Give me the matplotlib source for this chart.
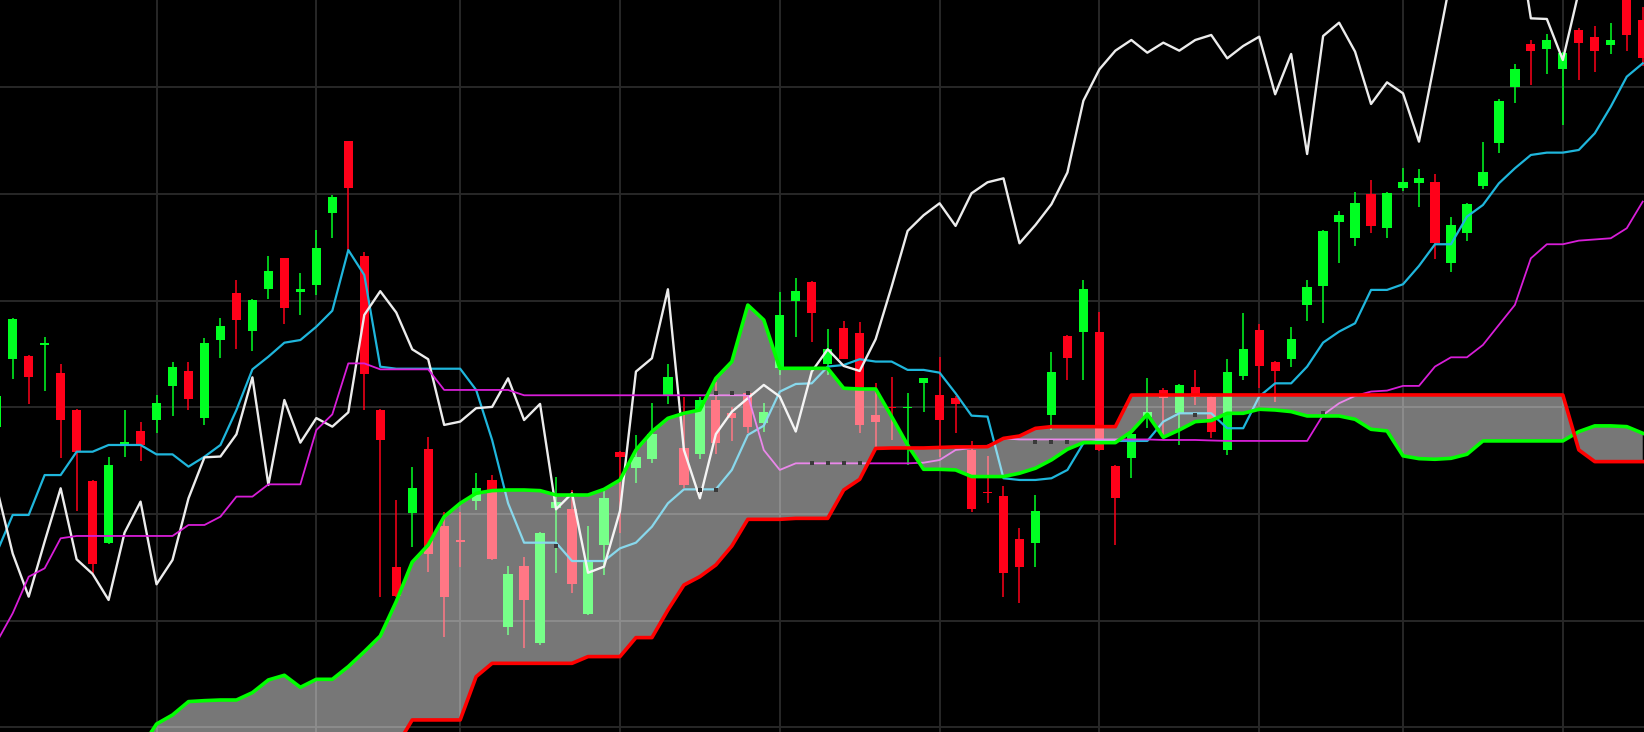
import numpy as np
import matplotlib
matplotlib.use("Agg")
import matplotlib.pyplot as plt

# ---------------- data (index of first candle = -1) ----------------
start = -1
opens = [1282, 1345, 1348.5, 1359, 1332, 1297.6, 1231, 1172.6, 1265, 1278,
         1288, 1320, 1334.5, 1290, 1363, 1407, 1371.6, 1410.7, 1439.8, 1408.5,
         1414.8, 1482, 1549.8, 1442.3, 1297.6, 1150, 1200.7, 1261, 1189, 1175.5,
         1212.6, 1232, 1094.5, 1151.4, 1079, 1205.4, 1204.5, 1106, 1171, 1258.6,
         1243, 1251.4, 1311.7, 1262.3, 1256.4, 1307, 1295, 1313.9, 1285, 1336.7,
         1400, 1418, 1340.5, 1374.8, 1370, 1293, 1300.5, 1299.3, 1322.6, 1311.7,
         1308.6, 1260, 1220.7, 1217, 1176.3, 1173.2, 1293, 1367.3, 1371, 1371.1,
         1245, 1253, 1291.3, 1316.4, 1294.5, 1319.5, 1309.5, 1260, 1329.5, 1372.7,
         1342.7, 1345, 1396, 1414, 1474.2, 1458.6, 1500.2, 1468, 1505.5, 1510.8,
         1511.1, 1435.2, 1463.9, 1508, 1547.6, 1600, 1640.8, 1635.8, 1617, 1653.9,
         1647, 1639.8, 1685, 1663]
highs = [1315, 1384, 1349, 1366, 1341, 1299, 1232, 1254, 1297.6, 1286.6,
         1311.6, 1343, 1343, 1365, 1383.5, 1419.5, 1401.6, 1442.3, 1440, 1425.7,
         1466.3, 1499, 1550, 1445.4, 1299, 1213, 1243.9, 1272.6, 1202.3, 1202,
         1238.2, 1236.7, 1151.4, 1160, 1183, 1235, 1223, 1189, 1222.6, 1259,
         1274, 1304.5, 1340.4, 1310, 1310, 1324, 1300, 1315, 1303.8, 1408.6,
         1421, 1419, 1373.3, 1381, 1380, 1322.7, 1328.3, 1313.3, 1328, 1347,
         1311, 1268.5, 1254.5, 1226.3, 1186.7, 1218, 1352.4, 1368, 1419.5, 1389.8,
         1246, 1277.3, 1327.3, 1318, 1322, 1335, 1311, 1345, 1389, 1378,
         1343.6, 1375, 1419.5, 1466.4, 1484.2, 1501.7, 1513.3, 1501.7, 1524.2, 1523.3,
         1518.9, 1478.9, 1491.4, 1548.6, 1589, 1621.7, 1644.5, 1649.8, 1633.6, 1655.4,
         1657.6, 1660.1, 1690, 1675]
lows = [1278, 1327, 1303, 1315, 1253, 1203, 1144.5, 1172, 1254, 1250,
        1276, 1292, 1298, 1283.5, 1346.6, 1355, 1353, 1401.6, 1378, 1386.6,
        1405.4, 1459, 1447.6, 1298, 1122.5, 1122.6, 1169.5, 1146, 1085, 1150.7,
        1204, 1157, 1086.7, 1074, 1077.3, 1144.5, 1126, 1105, 1143, 1182,
        1229, 1247.6, 1303.2, 1224, 1252, 1256, 1269, 1276, 1277.3, 1330.4,
        1365.7, 1361, 1330.5, 1345, 1276, 1263.3, 1269.5, 1246, 1296, 1253.8,
        1276, 1202.3, 1210, 1122.6, 1116.3, 1150, 1279, 1325.8, 1325.8, 1259.5,
        1171, 1233.5, 1280.4, 1274, 1264.8, 1302.4, 1271, 1255.5, 1325.8, 1318,
        1305.5, 1337.7, 1381.4, 1379, 1435.8, 1451.4, 1464, 1459, 1503.3, 1488.3,
        1438.9, 1427.3, 1456.4, 1504.5, 1538.3, 1585, 1602.3, 1612.6, 1564.8, 1607,
        1614.8, 1631.1, 1634.5, 1620]
closes = [1311, 1383, 1329, 1360.5, 1288, 1258, 1153, 1246, 1267.5, 1265,
          1304.5, 1338, 1307.6, 1360, 1376, 1382, 1400.7, 1428.2, 1393, 1410.7,
          1449.8, 1497.6, 1506, 1331.3, 1269.5, 1123.5, 1224.8, 1163, 1122.6, 1174.3,
          1224.2, 1157.6, 1143.9, 1119.5, 1182.6, 1211.7, 1134.2, 1157, 1214.8, 1253.2,
          1254, 1274.8, 1328.2, 1227.3, 1307, 1267, 1290, 1282, 1295.4, 1386.7,
          1409, 1389, 1354.5, 1345.2, 1283.6, 1286.7, 1299.3, 1300.5, 1327.3, 1288.2,
          1303.3, 1204.5, 1219.5, 1145, 1150.7, 1202.9, 1333.6, 1346.1, 1410.8, 1260.2,
          1214.8, 1275, 1296, 1308.6, 1321.1, 1310.2, 1277.4, 1333.6, 1354.5, 1338.9,
          1334.2, 1364, 1413.3, 1465.5, 1480.2, 1491.4, 1470.2, 1500.8, 1511.1, 1514.8,
          1453.9, 1471.1, 1490.5, 1520.3, 1587.6, 1617, 1634.5, 1644.5, 1632.6, 1642,
          1634.5, 1644.5, 1649.2, 1627.3]
# closes after the last visible candle (only seen through the lagging span)
later_closes = [1638.9, 1647.6, 1593.6, 1631.4, 1537.6, 1648.25, 1660.75, 1633.6,
                1584.5, 1604.8, 1594.5, 1549.2, 1625.75, 1703, 1740, 1730, 1750,
                1760, 1664.8, 1664.2, 1625.75, 1690, 1720]
chikou_shift = 26

tenkan = [1164, 1199.2, 1199.2, 1236.6, 1236.6, 1258.5, 1258.5, 1264.8, 1264.8, 1264.8,
          1256, 1256, 1244.5, 1253.8, 1264.8, 1297.6, 1335.7, 1347.6, 1360.7, 1363.2,
          1375.7, 1390.7, 1447.6, 1424.2, 1338.2, 1336.3, 1336.3, 1336.3, 1336.3, 1336.3,
          1316.4, 1269.5, 1210.1, 1173.2, 1173.2, 1173.2, 1156, 1156, 1156, 1167.9,
          1173.2, 1188.2, 1210.1, 1223.2, 1223.2, 1223.2, 1241.4, 1274.2, 1282.9, 1314.8,
          1322, 1322.6, 1338.3, 1339.8, 1345.2, 1343, 1343, 1335.2, 1335.2, 1332.6,
          1313.3, 1292.3, 1291.4, 1233.6, 1232, 1232, 1233.6, 1241.4, 1266.4, 1268.6,
          1268.6, 1268.6, 1268.6, 1286.7, 1294.5, 1294.5, 1294.5, 1280.5, 1280.5, 1310.2,
          1322.6, 1322.6, 1338.3, 1360.8, 1371.1, 1378.9, 1410.2, 1410.2, 1415.5, 1432.7,
          1453, 1453, 1478.9, 1489.8, 1510.1, 1524.2, 1536.7, 1538.9, 1538.9, 1541.4,
          1557, 1582, 1610.1, 1622.6]
kijun = [1080, 1107, 1141.3, 1149.2, 1177.3, 1179.5, 1179.5, 1179.5, 1179.5, 1179.5,
         1179.5, 1179.5, 1189.8, 1189.8, 1197.6, 1216.4, 1216.4, 1227.9, 1227.9, 1227.9,
         1278.8, 1293.5, 1341.3, 1341.3, 1335.7, 1335.7, 1335.7, 1335.7, 1316.4, 1316.4,
         1316.4, 1316.4, 1316.4, 1311.4, 1311.4, 1311.4, 1311.4, 1311.4, 1311.4, 1311.4,
         1311.4, 1311.4, 1311.4, 1311.4, 1311.4, 1311.4, 1311.4, 1311.4, 1260.1, 1241.4,
         1247.6, 1247.6, 1247.6, 1247.6, 1247.6, 1247.6, 1247.6, 1247.6, 1248.2, 1250.7,
         1260.1, 1262, 1264.1, 1271, 1270, 1270, 1270, 1270, 1270, 1270,
         1270, 1270, 1270, 1269.5, 1269.5, 1269.5, 1269, 1268.6, 1268.6, 1268.6,
         1268.6, 1268.6, 1268.6, 1293, 1303.9, 1310.8, 1314.9, 1315.8, 1320.2, 1320.2,
         1338.3, 1347, 1347, 1358.6, 1377.4, 1396.1, 1439.8, 1453, 1453, 1456.4,
         1457.5, 1458.6, 1468, 1493]
senkou_a = [962, 965, 967, 968, 970, 972, 974, 975, 977, 980,
            1003.2, 1011.7, 1024.2, 1025.1, 1025.7, 1025.7, 1032.6, 1044.5, 1048.9, 1037.6,
            1045.1, 1045.1, 1057, 1071, 1085.7, 1118, 1155, 1171, 1197.6, 1210.1,
            1219.5, 1222, 1222.6, 1222.6, 1222, 1217.9, 1217.9, 1217.9, 1223.2, 1232,
            1260.1, 1277.3, 1289.8, 1294.5, 1297.6, 1327.3, 1342.9, 1396, 1382, 1336.7,
            1336.7, 1336.7, 1336.7, 1318, 1317.3, 1317.3, 1291.4, 1264.8, 1242, 1242,
            1241.4, 1235.2, 1235.2, 1235.2, 1238.3, 1243, 1250.8, 1260.8, 1267, 1267,
            1267, 1277.3, 1293.6, 1272, 1278.9, 1286.7, 1287.7, 1294.5, 1294.5, 1298.3,
            1297.6, 1296.1, 1292, 1292, 1292, 1288.9, 1279.5, 1278, 1254.6, 1252,
            1251.4, 1252.3, 1256.1, 1268.6, 1268.6, 1268.6, 1268.6, 1268.6, 1268.6, 1277.3,
            1282.7, 1282.7, 1282, 1275.8, 1275.1][:104]
senkou_b = [955, 956, 958, 958, 960, 961, 962, 963, 964, 965,
            966, 967, 968, 969, 970, 971, 972, 973, 974, 975,
            976, 977, 978, 980, 981, 982, 1007, 1007, 1007, 1007,
            1047.6, 1060.1, 1060.1, 1060.1, 1060.1, 1060.1, 1060.1, 1066.4, 1066.4, 1066.4,
            1084.2, 1084.2, 1110.1, 1133.5, 1141.4, 1152.3, 1170.1, 1195.1, 1195.1, 1195.1,
            1196, 1196, 1196, 1222.6, 1232.6, 1261.6, 1262, 1262, 1262, 1262.5,
            1263, 1263, 1263.2, 1271, 1273.2, 1280.4, 1282, 1282, 1282, 1282,
            1282, 1311.6, 1311.7, 1311.7, 1311.7, 1311.7, 1311.7, 1311.7, 1311.7, 1311.7,
            1311.7, 1311.7, 1311.7, 1311.7, 1311.7, 1311.7, 1311.7, 1311.7, 1311.7, 1311.7,
            1311.7, 1311.7, 1311.7, 1311.7, 1311.7, 1311.7, 1311.7, 1311.7, 1311.7, 1260.2,
            1249.2, 1249.2, 1249.2, 1249.2][:104]

# small dark tick marks seen on top of the cloud
mark_x = [34, 43, 44, 44, 45, 46, 50, 51, 52, 53, 64, 65, 66, 74, 82]
mark_y = [1170, 1222.6, 1222.6, 1313.9, 1313.9, 1313.9, 1247.6, 1247.6, 1247.6,
          1247.6, 1267.5, 1267.5, 1267.5, 1293, 1294.5]

grid_x = [9, 19, 28, 38, 48, 58, 68, 78, 87, 97]
grid_y = [1000, 1100, 1200, 1300, 1400, 1500, 1600]

# ---------------- styles ----------------
GREEN = '#00ff22'
RED = '#ff0019'
CYAN = '#1fb6dc'
MAGENTA = '#d81ed8'
WHITE = '#ececec'
SPAN_A = '#00ff00'
SPAN_B = '#ff0000'

fig = plt.figure(figsize=(16.44, 7.32), dpi=100, facecolor='black')
ax = fig.add_axes([0, 0, 1, 1], facecolor='black')

o = np.array(opens, float)
h = np.array(highs, float)
l = np.array(lows, float)
c = np.array(closes, float)
x = np.arange(start, start + len(c))
up = c >= o
cols = np.where(up, GREEN, RED)

ax.vlines(x, l, h, colors=cols, linewidth=1.1, zorder=2)
ax.bar(x, np.maximum(np.abs(c - o), 1.2), bottom=np.minimum(o, c), width=0.58,
       color=cols, linewidth=0, zorder=2)

ax.plot(x, tenkan, color=CYAN, lw=1.6, zorder=3)
all_closes = np.concatenate([c, np.array(later_closes, float)])
cx = np.arange(start, start + len(all_closes)) - chikou_shift
ax.plot(cx, all_closes, color=WHITE, lw=1.7, zorder=3)
ax.plot(x, kijun, color=MAGENTA, lw=1.3, zorder=3.2)

xa = np.arange(start, start + len(senkou_a))
ax.fill_between(xa, senkou_a, senkou_b, color='white', alpha=0.47, lw=0, zorder=4)
ax.plot(mark_x, mark_y, linestyle='none', marker='s', ms=3.3, mew=0,
        color='#3a3a3a', zorder=4.5)
ax.plot(xa, senkou_a, color=SPAN_A, lw=2.6, zorder=5, solid_joinstyle='round')
ax.plot(xa, senkou_b, color=SPAN_B, lw=2.6, zorder=5.1, solid_joinstyle='round')

ax.set_xlim(-0.795, 102.08)
ax.set_ylim(995.7, 1682)
ax.set_xticks(grid_x)
ax.set_yticks(grid_y)
ax.grid(True, color='#282828', linewidth=1.4)
ax.set_axisbelow(True)
ax.tick_params(length=0, labelbottom=False, labelleft=False)
for s in ax.spines.values():
    s.set_visible(False)

fig.savefig('out.png', dpi=100, facecolor='black')
